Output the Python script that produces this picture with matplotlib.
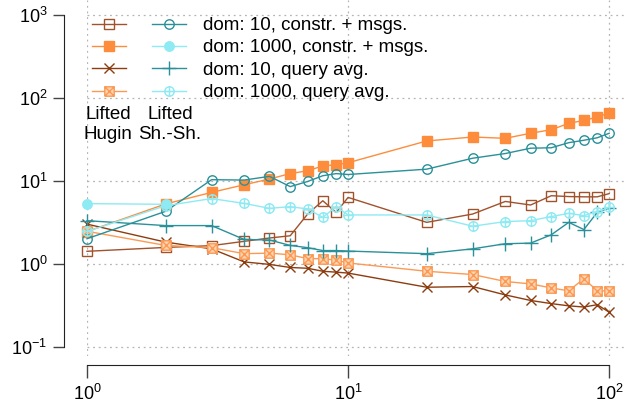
import numpy as np
import matplotlib
matplotlib.use('Agg')
import matplotlib.pyplot as plt
from matplotlib.path import Path

plt.rcParams['font.family'] = ['Liberation Sans', 'DejaVu Sans']
plt.rcParams['mathtext.fontset'] = 'custom'
plt.rcParams['mathtext.rm'] = 'Liberation Sans'
plt.rcParams['mathtext.it'] = 'Liberation Sans:italic'

# domain sizes on the x axis
x = [1, 2, 3, 4, 5, 6, 7, 8, 9, 10, 20, 30, 40, 50, 60, 70, 80, 90, 100]

# Lifted Hugin
hugin_d10_constr = [1.41, 1.57, 1.65, 1.86, 2.04, 2.17, 3.97, 5.74, 4.15, 6.3,
                    3.15, 3.97, 5.63, 5.1, 6.6, 6.45, 6.4, 6.4, 7.0]
hugin_d1000_constr = [2.44, 5.25, 7.24, 8.95, 10.5, 12.2, 13.2, 15.1, 15.6, 16.5,
                      30.2, 33.7, 32.5, 37.4, 41.3, 49.2, 53.5, 58.5, 66.0]
hugin_d10_query = [3.0, 1.82, 1.51, 1.05, 0.98, 0.9, 0.88, 0.81, 0.79, 0.77,
                   0.52, 0.53, 0.42, 0.36, 0.33, 0.31, 0.30, 0.32, 0.26]
hugin_d1000_query = [2.46, 1.66, 1.56, 1.32, 1.34, 1.28, 1.15, 1.15, 1.1, 1.02,
                     0.81, 0.74, 0.61, 0.57, 0.51, 0.47, 0.66, 0.47, 0.47]

# Lifted Shafer-Shenoy
shsh_d10_constr = [2.0, 4.28, 10.3, 10.2, 11.3, 8.5, 9.8, 11.5, 12.2, 11.9,
                   13.8, 18.7, 21.3, 24.7, 25.0, 28.8, 30.8, 33.0, 37.4]
x_shsh_d1000_constr = [1, 2]
shsh_d1000_constr = [5.3, 5.2]
shsh_d10_query = [3.3, 2.88, 2.88, 1.96, 1.93, 1.66, 1.56, 1.44, 1.44, 1.42,
                  1.32, 1.51, 1.74, 1.77, 2.23, 3.15, 2.58, 4.16, 4.7]
shsh_d1000_query = [2.45, 5.0, 6.1, 5.33, 4.65, 4.87, 4.57, 3.62, 4.87, 3.87,
                    3.87, 2.83, 3.22, 3.3, 3.7, 4.05, 3.8, 4.24, 4.77]

labels = ['dom: 10, constr. + msgs.', 'dom: 1000, constr. + msgs.',
          'dom: 10, query avg.', 'dom: 1000, query avg.']

brown = '#a0522d'
dark_brown = '#8c3d10'
orange = '#fd8d3c'
light_orange = '#fb9a55'
teal = '#2a9099'
cyan = '#8eeaf3'

# boxed x and circled plus markers
sq = [(-1, -1), (1, -1), (1, 1), (-1, 1), (-1, -1)]
box_x = Path(sq + [(-1, -1), (1, 1), (-1, 1), (1, -1)],
             [Path.MOVETO] + [Path.LINETO] * 4 + [Path.MOVETO, Path.LINETO, Path.MOVETO, Path.LINETO])
circ = Path.unit_circle()
cross = Path([(-1, 0), (1, 0), (0, -1), (0, 1)],
             [Path.MOVETO, Path.LINETO, Path.MOVETO, Path.LINETO])
circ_plus = Path.make_compound_path(circ, cross)

fs = 13.5

fig = plt.figure(figsize=(6.27, 4.05), dpi=100)
ax = fig.add_axes([87 / 627, 49 / 405, 540 / 627, 356 / 405])

kw = dict(lw=1, clip_on=False, mew=1)
h1 = ax.plot(x, hugin_d10_constr, color=brown, marker='s', ms=6.8, mfc='none', **kw)[0]
h2 = ax.plot(x, hugin_d1000_constr, color=orange, marker='s', ms=6.8, **kw)[0]
h3 = ax.plot(x, hugin_d10_query, color=dark_brown, marker='x', ms=7, **kw)[0]
h4 = ax.plot(x, hugin_d1000_query, color=light_orange, marker=box_x, ms=6.8, mfc='#fdd3b0', **kw)[0]
s1 = ax.plot(x, shsh_d10_constr, color=teal, marker='o', ms=6.8, mfc='none', **kw)[0]
s2 = ax.plot(x_shsh_d1000_constr, shsh_d1000_constr, color=cyan, marker='o', ms=6.8, **kw)[0]
s3 = ax.plot(x, shsh_d10_query, color=teal, marker='+', ms=9.5, **kw)[0]
s4 = ax.plot(x, shsh_d1000_query, color=cyan, marker=circ_plus, ms=6.8, mfc='none', **kw)[0]

ax.set_xscale('log')
ax.set_yscale('log')
ax.set_xlim(1, 117)
ax.set_ylim(0.077, 1514)
ax.set_xticks([1, 10, 100])
ax.set_yticks([0.1, 1, 10, 100, 1000])
ax.minorticks_off()

for sp in ['left', 'bottom']:
    ax.spines[sp].set_color('#222222')
ax.spines['top'].set_visible(False)
ax.spines['right'].set_visible(False)
ax.spines['left'].set_position(('outward', 16.5))
ax.spines['bottom'].set_position(('outward', 6.5))
ax.spines['left'].set_bounds(0.1, 1000)
ax.spines['bottom'].set_bounds(1, 100)
ax.tick_params(axis='y', direction='out', length=8, width=1, labelsize=13, pad=4, color='#444444')
ax.tick_params(axis='x', direction='out', length=9.5, width=1, labelsize=13, pad=4, color='#444444')

ax.grid(True, color='#b5b5b5', lw=0.9, ls=(0, (1.5, 3)))
ax.set_axisbelow(True)

leg = ax.legend([h1, h2, h3, h4, s1, s2, s3, s4], [''] * 4 + labels,
                ncol=2, frameon=False, fontsize=fs, handlelength=1.81,
                handletextpad=0.9, columnspacing=0.48, labelspacing=0.28,
                borderpad=0, borderaxespad=0, loc='upper left',
                bbox_to_anchor=(92 / 627, 1 - 17 / 405), bbox_transform=fig.transFigure)

fig.text(108 / 627, 1 - 106 / 405, 'Lifted\nHugin', ha='center', va='top', fontsize=fs, linespacing=1.2)
fig.text(170 / 627, 1 - 106 / 405, 'Lifted\nSh.-Sh.', ha='center', va='top', fontsize=fs, linespacing=1.2)

fig.savefig('out.png', dpi=100)
